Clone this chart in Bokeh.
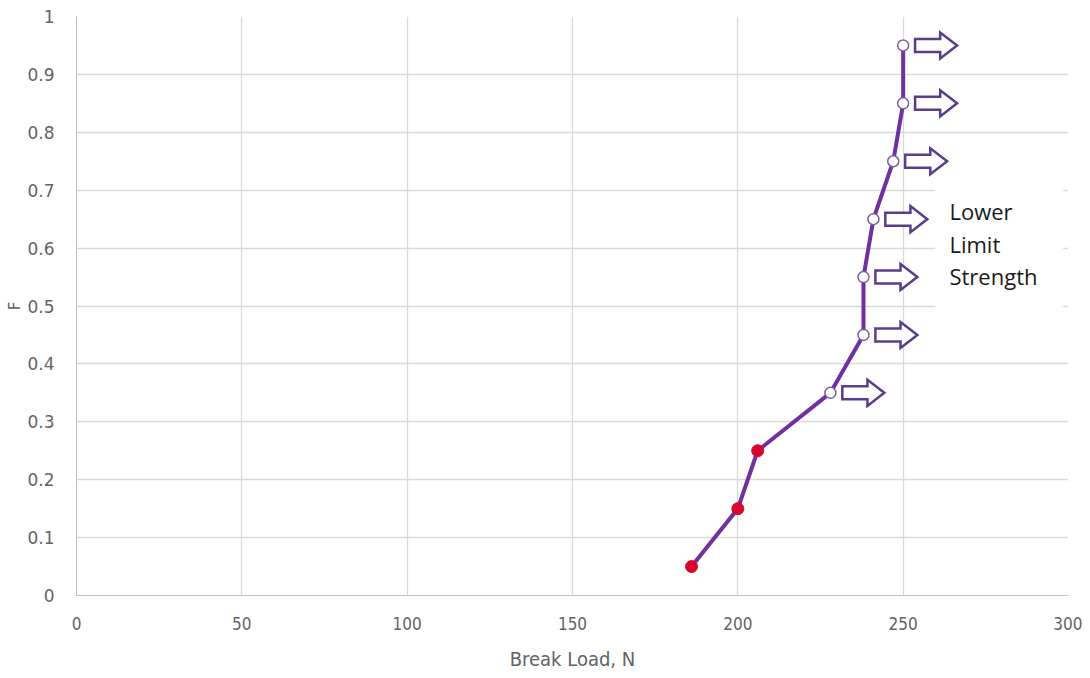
from bokeh.plotting import figure
from bokeh.models import FixedTicker, NumeralTickFormatter
from bokeh.core.properties import value
from bokeh.embed import file_html
from bokeh.resources import INLINE

# Data
failed_load = [186, 200, 206]
failed_F = [0.05, 0.15, 0.25]
survived_load = [228, 238, 238, 241, 247, 250, 250]
survived_F = [0.35, 0.45, 0.55, 0.65, 0.75, 0.85, 0.95]
x_ticks = [0, 50, 100, 150, 200, 250, 300]
y_ticks = [0, 0.1, 0.2, 0.3, 0.4, 0.5, 0.6, 0.7, 0.8, 0.9, 1.0]
note_lines = ["Lower", "Limit", "Strength"]

PURPLE = "#7030A0"
ARROW = "#5B3C8C"
RED = "#D8062C"
NARROW = "'DejaVu Sans Condensed', 'Liberation Sans Narrow', Roboto, sans-serif"

p = figure(frame_width=992, frame_height=579, x_range=(0, 300), y_range=(0, 1),
           output_backend="svg", toolbar_location=None,
           min_border_left=76, min_border_right=14, min_border_top=16, min_border_bottom=72)
p.outline_line_color = None

# Axes
p.xaxis.ticker = FixedTicker(ticks=x_ticks)
p.yaxis.ticker = FixedTicker(ticks=y_ticks)
p.yaxis.formatter = NumeralTickFormatter(format="0.[0]")
for ax in (p.xaxis[0], p.yaxis[0]):
    ax.major_tick_line_color = None
    ax.minor_tick_line_color = None
    ax.axis_line_color = "#BFBFBF"
    ax.major_label_text_color = "#636363"
    ax.axis_label_text_color = "#636363"
    ax.axis_label_text_font_style = "normal"
p.xaxis.major_label_text_font = NARROW
p.xaxis.major_label_text_font_size = "17px"
p.xaxis.major_label_standoff = 15
p.xaxis.axis_label = "Break Load, N"
p.xaxis.axis_label_text_font = NARROW
p.xaxis.axis_label_text_font_size = "20px"
p.xaxis.axis_label_standoff = 14
p.yaxis.major_label_text_font = "DejaVu Sans"
p.yaxis.major_label_text_font_size = "17px"
p.yaxis.major_label_standoff = 16
p.yaxis.axis_label = "F"
p.yaxis.axis_label_text_font = "DejaVu Sans"
p.yaxis.axis_label_text_font_size = "15px"
p.yaxis.axis_label_standoff = 0
p.xgrid.grid_line_color = "#D9D9D9"
p.ygrid.grid_line_color = "#D9D9D9"
p.xgrid.grid_line_width = 1.3
p.ygrid.grid_line_width = 1.3

# White box behind the note
p.quad(left=[259.7], right=[298.4], bottom=[0.44], top=[0.71],
       fill_color="white", line_color=None)

# Note text
note_y = [0.6645, 0.6075, 0.551]
p.text(x=[264.0] * 3, y=note_y, text=note_lines, text_font=value("Open Sans"),
       text_font_size="22px", text_color="#1a1a1a", text_baseline="middle", text_align="left")

# Line through all points
all_x = failed_load + survived_load
all_y = failed_F + survived_F
p.line(all_x, all_y, line_color=PURPLE, line_width=4)

# Failed: red dots
p.scatter(failed_load, failed_F, size=12, fill_color=RED, line_color=RED)
# Survived: open circles
p.scatter(survived_load, survived_F, size=11, fill_color="white", line_color="#7B5FA3", line_width=1.5)

# Hollow arrows pointing right for survivors (computed from points)
gap, L, head = 3.6, 12.7, 5.1
sh, hh = 0.0112, 0.0225
xs, ys = [], []
for x, y in zip(survived_load, survived_F):
    x0 = x + gap
    xs.append([x0, x0 + L - head, x0 + L - head, x0 + L, x0 + L - head, x0 + L - head, x0])
    ys.append([y - sh, y - sh, y - hh, y, y + hh, y + sh, y + sh])
p.patches(xs, ys, fill_color="white", line_color=ARROW, line_width=2.5, line_join="miter")

open("out.html", "w").write(file_html(p, INLINE))
